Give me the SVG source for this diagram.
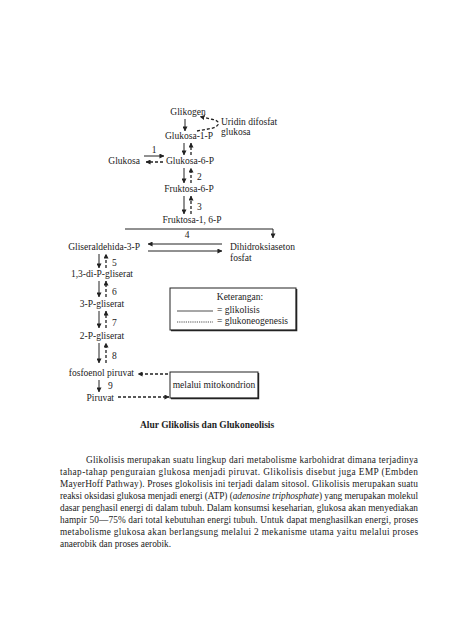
<svg xmlns="http://www.w3.org/2000/svg" width="474" height="632" viewBox="0 0 474 632">
<style>
text{font-family:"Liberation Serif","Times New Roman",serif;fill:#222}
.l{font-size:9.5px}
.p{font-size:9.3px}
.s{stroke:#222;stroke-width:1;fill:none}
.d{stroke:#222;stroke-width:1.3;fill:none;stroke-dasharray:3 2}
</style>
<defs>
<marker id="ah" viewBox="0 0 6 6" refX="5.5" refY="3" markerWidth="5" markerHeight="5" markerUnits="userSpaceOnUse" orient="auto"><path d="M0,0 L6,3 L0,6 Z" fill="#222"/></marker>
</defs>
<rect width="474" height="632" fill="#fff"/>

<g id="glikogen"><text class="l" x="188" y="115" text-anchor="middle">Glikogen</text></g>
<g id="udpg"><text class="l" x="221" y="125">Uridin difosfat</text><text class="l" x="221" y="135">glukosa</text></g>
<g id="g1p"><text class="l" x="189" y="139" text-anchor="middle">Glukosa-1-P</text></g>
<g id="glukosa"><text class="l" x="140" y="164" text-anchor="end">Glukosa</text></g>
<g id="g6p"><text class="l" x="190" y="164" text-anchor="middle">Glukosa-6-P</text></g>
<g id="f6p"><text class="l" x="189" y="192" text-anchor="middle">Fruktosa-6-P</text></g>
<g id="f16p"><text class="l" x="192" y="223" text-anchor="middle">Fruktosa-1, 6-P</text></g>
<g id="gap"><text class="l" x="140" y="250" text-anchor="end">Gliseraldehida-3-P</text></g>
<g id="dhap"><text class="l" x="230" y="250">Dihidroksiaseton</text><text class="l" x="230" y="261">fosfat</text></g>
<g id="bpg"><text class="l" x="102" y="277" text-anchor="middle">1,3-di-P-gliserat</text></g>
<g id="pg3"><text class="l" x="102" y="307" text-anchor="middle">3-P-gliserat</text></g>
<g id="pg2"><text class="l" x="102" y="339" text-anchor="middle">2-P-gliserat</text></g>
<g id="pep"><text class="l" x="134" y="376" text-anchor="end">fosfoenol piruvat</text></g>
<g id="piruvat"><text class="l" x="114" y="401" text-anchor="end">Piruvat</text></g>

<g id="legend">
<rect x="170" y="288" width="126" height="42" fill="#fff" stroke="#222" stroke-width="1"/>
<path d="M171,330.5 H296.5 V289" stroke="#222" stroke-width="1.6" fill="none"/>
<text class="l" x="240" y="300" text-anchor="middle">Keterangan:</text>
<line x1="177" y1="311" x2="213" y2="311" stroke="#222" stroke-width="0.8"/>
<text class="l" x="217" y="313">= glikolisis</text>
<line x1="177" y1="322" x2="213" y2="322" stroke="#222" stroke-width="0.8" stroke-dasharray="1.2 1"/>
<text class="l" x="217" y="324">= glukoneogenesis</text>
</g>

<g id="mitokondrion">
<rect x="170" y="372" width="88" height="26" fill="#fff" stroke="#222" stroke-width="1"/>
<path d="M171,398.5 H258.5 V373" stroke="#222" stroke-width="1.4" fill="none"/>
<text class="l" x="214" y="388" text-anchor="middle">melalui mitokondrion</text>
</g>

<g id="connectors">
<line class="s" x1="185" y1="119" x2="185" y2="131" marker-end="url(#ah)"/>
<path class="d" d="M197,131 L211,128.5 C220,126.5 221,121 213,119.5 L200,116.5" marker-end="url(#ah)"/>
<line class="s" x1="184" y1="143" x2="184" y2="155" marker-end="url(#ah)"/>
<line class="d" x1="191" y1="155" x2="191" y2="143" marker-end="url(#ah)"/>
<text class="l" x="154" y="153" text-anchor="middle">1</text>
<line class="s" x1="144" y1="156" x2="164" y2="156" marker-end="url(#ah)"/>
<line class="d" x1="163" y1="162" x2="146" y2="162" marker-end="url(#ah)"/>
<line class="s" x1="184" y1="168" x2="184" y2="183" marker-end="url(#ah)"/>
<line class="d" x1="191" y1="183" x2="191" y2="168" marker-end="url(#ah)"/>
<text class="l" x="197" y="180">2</text>
<line class="s" x1="184" y1="196" x2="184" y2="214" marker-end="url(#ah)"/>
<line class="d" x1="191" y1="214" x2="191" y2="196" marker-end="url(#ah)"/>
<text class="l" x="197" y="210">3</text>
<path class="s" d="M125,229 H273 V238" marker-end="url(#ah)"/>
<text class="l" x="187" y="238" text-anchor="middle">4</text>
<line class="s" x1="222" y1="244" x2="148" y2="244" marker-end="url(#ah)"/>
<line class="s" x1="148" y1="251" x2="222" y2="251" marker-end="url(#ah)"/>
<line class="s" x1="99" y1="254" x2="99" y2="268" marker-end="url(#ah)"/>
<line class="d" x1="106" y1="268" x2="106" y2="254" marker-end="url(#ah)"/>
<text class="l" x="112" y="266">5</text>
<line class="s" x1="99" y1="281" x2="99" y2="297" marker-end="url(#ah)"/>
<line class="d" x1="106" y1="297" x2="106" y2="281" marker-end="url(#ah)"/>
<text class="l" x="112" y="295">6</text>
<line class="s" x1="99" y1="311" x2="99" y2="328" marker-end="url(#ah)"/>
<line class="d" x1="106" y1="328" x2="106" y2="311" marker-end="url(#ah)"/>
<text class="l" x="112" y="326">7</text>
<line class="s" x1="99" y1="343" x2="99" y2="363" marker-end="url(#ah)"/>
<line class="d" x1="106" y1="363" x2="106" y2="343" marker-end="url(#ah)"/>
<text class="l" x="112" y="359">8</text>
<line class="s" x1="99" y1="380" x2="99" y2="392" marker-end="url(#ah)"/>
<text class="l" x="108" y="389">9</text>
<line class="d" x1="168" y1="374" x2="138" y2="374" marker-end="url(#ah)"/>
<line class="d" x1="118" y1="397" x2="169" y2="397" marker-end="url(#ah)"/>
</g>

<text class="l" x="140" y="428" font-weight="bold">Alur Glikolisis dan Glukoneolisis</text>

<g id="paragraph">
<text class="p" x="86" y="463" textLength="332" lengthAdjust="spacing">Glikolisis merupakan suatu lingkup dari metabolisme karbohidrat dimana terjadinya</text>
<text class="p" x="60" y="475" textLength="358" lengthAdjust="spacing">tahap-tahap penguraian glukosa menjadi piruvat. Glikolisis disebut juga EMP (Embden</text>
<text class="p" x="60" y="487" textLength="358" lengthAdjust="spacing">MayerHoff Pathway). Proses glokolisis ini terjadi dalam sitosol. Glikolisis merupakan suatu</text>
<text class="p" x="60" y="499" textLength="358" lengthAdjust="spacing">reaksi oksidasi glukosa menjadi energi (ATP) (<tspan font-style="italic">adenosine triphosphate</tspan>) yang merupakan molekul</text>
<text class="p" x="60" y="511" textLength="358" lengthAdjust="spacing">dasar penghasil energi di dalam tubuh. Dalam konsumsi keseharian, glukosa akan menyediakan</text>
<text class="p" x="60" y="523" textLength="358" lengthAdjust="spacing">hampir 50—75% dari total kebutuhan energi tubuh. Untuk dapat menghasilkan energi, proses</text>
<text class="p" x="60" y="535" textLength="358" lengthAdjust="spacing">metabolisme glukosa akan berlangsung melalui 2 mekanisme utama yaitu melalui proses</text>
<text class="p" x="60" y="547">anaerobik dan proses aerobik.</text>
</g>
</svg>
